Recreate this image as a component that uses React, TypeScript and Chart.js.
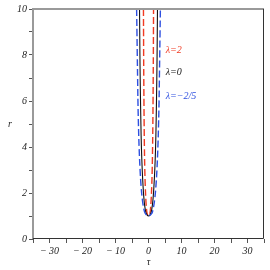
import React, { useEffect, useRef } from "react";
import { Chart, registerables } from "chart.js";

Chart.register(...registerables);

// r values (vertical), shared by every curve
const rValues = [1, 1.1, 1.3, 1.7, 2.3, 3, 4, 5, 6, 7, 8, 9, 10];
// tau on the right branch / left branch for each curve
const tauRightBlue = [0, 0.95, 1.4, 1.85, 2.25, 2.55, 2.85, 3.05, 3.2, 3.3, 3.4, 3.5, 3.6];
const tauLeftBlue = [0, -0.95, -1.4, -1.85, -2.25, -2.55, -2.85, -3.05, -3.2, -3.3, -3.4, -3.5, -3.6];
const tauRightBlack = [0, 0.65, 1.0, 1.35, 1.65, 1.9, 2.15, 2.3, 2.42, 2.52, 2.6, 2.66, 2.72];
const tauLeftBlack = [0, -0.65, -1.0, -1.35, -1.65, -1.9, -2.15, -2.3, -2.42, -2.52, -2.6, -2.66, -2.72];
const tauRightRed = [0, 0.4, 0.6, 0.8, 0.98, 1.12, 1.24, 1.32, 1.38, 1.43, 1.47, 1.5, 1.53];
const tauLeftRed = [0, -0.4, -0.6, -0.8, -0.98, -1.12, -1.24, -1.32, -1.38, -1.43, -1.47, -1.5, -1.53];

const seriesLabels = ["λ=2", "λ=0", "λ=−2/5"];
const labelTau = [5.2, 5.2, 5.2];
const labelR = [8.2, 7.25, 6.2];
const seriesColors = ["#f03a22", "#111111", "#2d4fe0"];

const xTickLabels = [-30, -20, -10, 0, 10, 20, 30];
const yTickLabels = [0, 2, 4, 6, 8, 10];

function branch(left: number[], right: number[]) {
  const pts: { x: number; y: number }[] = [];
  for (let i = rValues.length - 1; i >= 0; i--) pts.push({ x: left[i], y: rValues[i] });
  for (let i = 1; i < rValues.length; i++) pts.push({ x: right[i], y: rValues[i] });
  return pts;
}

const FONT = "'Liberation Serif', 'Times New Roman', serif";

export default function App() {
  const ref = useRef<HTMLCanvasElement | null>(null);
  useEffect(() => {
    if (!ref.current) return;
    const decor = {
      id: "decor",
      afterDatasetsDraw(chart: any) {
        const { ctx, chartArea: a, scales } = chart;
        ctx.save();
        // frame
        ctx.strokeStyle = "#9a9a9a";
        ctx.lineWidth = 2;
        ctx.beginPath();
        ctx.moveTo(a.left, a.bottom);
        ctx.lineTo(a.left, a.top);
        ctx.lineTo(a.right, a.top);
        ctx.stroke();
        ctx.strokeStyle = "#333";
        ctx.lineWidth = 1;
        ctx.beginPath();
        ctx.moveTo(a.right - 0.5, a.top);
        ctx.lineTo(a.right - 0.5, a.bottom - 0.5);
        ctx.lineTo(a.left, a.bottom - 0.5);
        ctx.stroke();
        // series labels
        ctx.font = `italic 10px ${FONT}`;
        ctx.textAlign = "left";
        ctx.textBaseline = "middle";
        for (let i = 0; i < seriesLabels.length; i++) {
          ctx.fillStyle = seriesColors[i];
          ctx.fillText(seriesLabels[i], scales.x.getPixelForValue(labelTau[i]), scales.y.getPixelForValue(labelR[i]));
        }
        // axis titles
        ctx.fillStyle = "#222";
        ctx.textAlign = "center";
        ctx.fillText("r", 10, (a.top + a.bottom) / 2);
        ctx.fillText("τ", scales.x.getPixelForValue(0), 262);
        ctx.restore();
      },
    };
    const mk = (left: number[], right: number[], color: string, dash: number[], w: number) => ({
      data: branch(left, right),
      showLine: true,
      borderColor: color,
      borderWidth: w,
      borderDash: dash,
      pointRadius: 0,
      tension: 0.4,
      fill: false,
    });
    const chart = new Chart(ref.current, {
      type: "scatter",
      data: {
        datasets: [
          mk(tauLeftBlue, tauRightBlue, seriesColors[2], [7, 3], 1.4),
          mk(tauLeftBlack, tauRightBlack, seriesColors[1], [], 1.1),
          mk(tauLeftRed, tauRightRed, seriesColors[0], [7, 3], 1.4),
        ],
      },
      plugins: [decor],
      options: {
        animation: false,
        responsive: false,
        maintainAspectRatio: false,
        layout: { padding: { top: 9, right: 6, left: 0, bottom: 0 } },
        plugins: { legend: { display: false }, tooltip: { enabled: false } },
        scales: {
          x: {
            type: "linear",
            min: -35,
            max: 35,
            border: { display: false },
            grid: { drawOnChartArea: false, tickLength: 4, color: "#555", lineWidth: 1 },
            afterFit: (s: any) => { s.height = 31; },
            afterBuildTicks: (s: any) => {
              const t = [];
              for (let v = -35; v <= 35; v += 5) t.push({ value: v });
              s.ticks = t;
            },
            ticks: {
              font: { family: FONT, size: 10, style: "italic" },
              color: "#222",
              padding: 2,
              maxRotation: 0,
              autoSkip: false,
              callback: (v: any) => (xTickLabels.includes(v) ? (v < 0 ? "− " + Math.abs(v) : String(v)) : ""),
            },
          },
          y: {
            type: "linear",
            min: 0,
            max: 10,
            border: { display: false },
            grid: { drawOnChartArea: false, tickLength: 4, color: "#555", lineWidth: 1 },
            afterFit: (s: any) => { s.width = 33; },
            afterBuildTicks: (s: any) => {
              const t = [];
              for (let v = 0; v <= 10; v += 1) t.push({ value: v });
              s.ticks = t;
            },
            ticks: {
              font: { family: FONT, size: 10, style: "italic" },
              color: "#222",
              padding: 2,
              autoSkip: false,
              callback: (v: any) => (yTickLabels.includes(v) ? String(v) : ""),
            },
          },
        },
      },
    } as any);
    return () => chart.destroy();
  }, []);
  return (
    <div style={{ position: "fixed", left: 0, top: 0, width: 270, height: 270, background: "#fff" }}>
      <canvas ref={ref} width={270} height={270} style={{ width: 270, height: 270 }} />
    </div>
  );
}
